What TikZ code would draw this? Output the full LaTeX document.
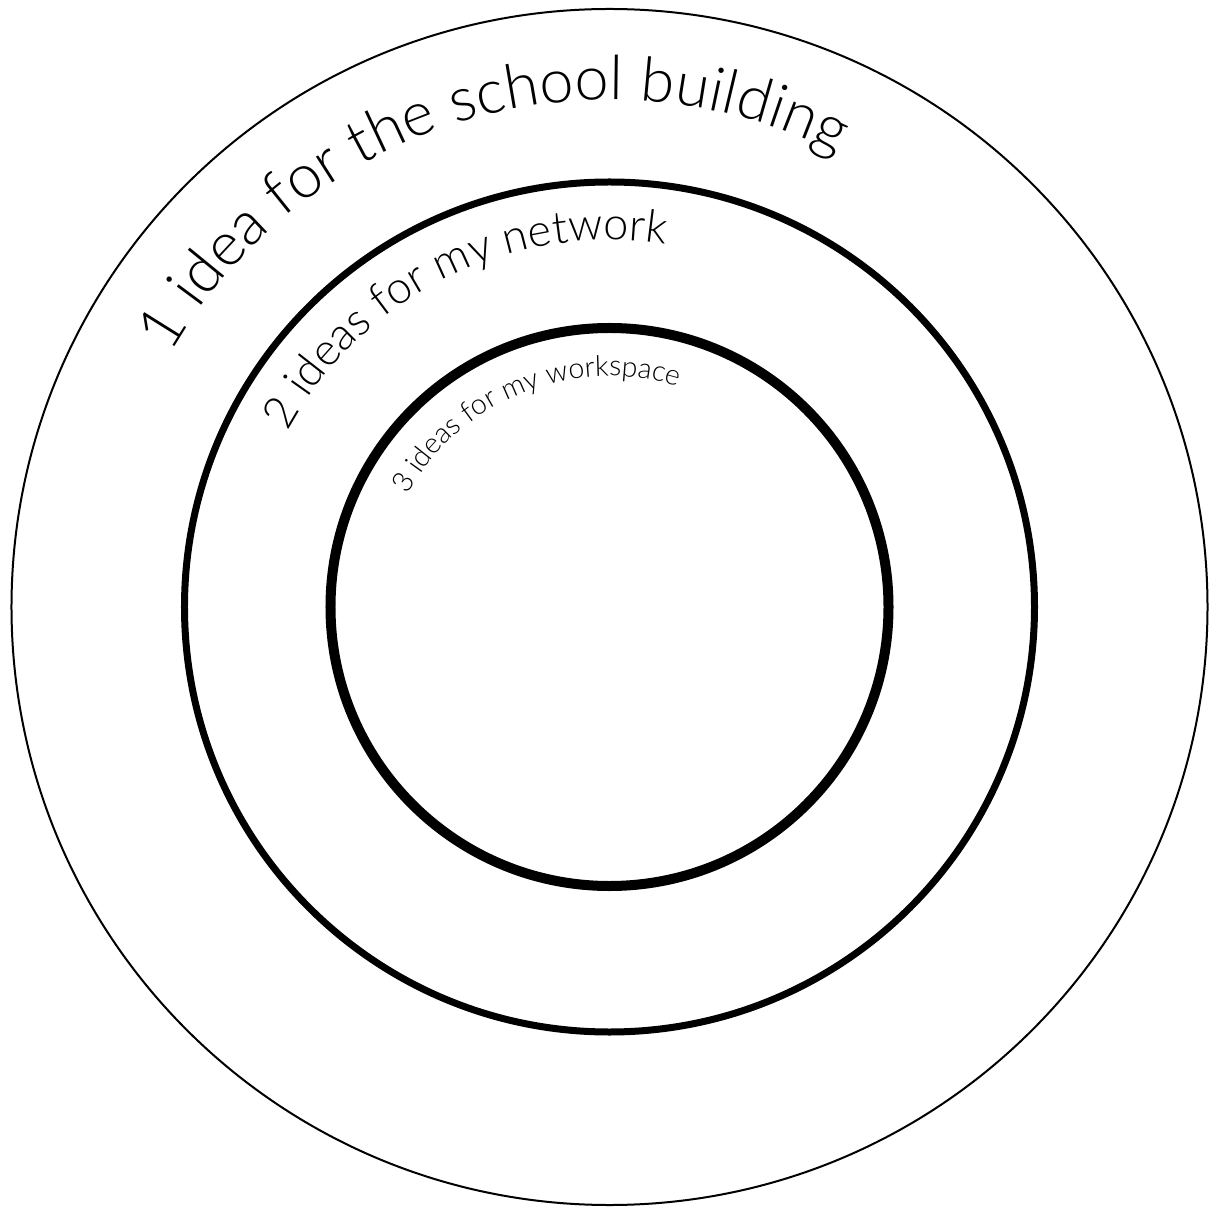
\documentclass[tikz,border=0pt]{standalone}
\usepackage{fontspec}
\usetikzlibrary{decorations.text}
\IfFontExistsTF{Lato Light}{\newfontfamily\lf{Lato Light}}{\newfontfamily\lf{Liberation Sans}}
\tikzset{
  ring/.style={draw=black},
  arctext/.style={decorate, decoration={text along path, text align=left, text={#1}}}
}
\begin{document}
\begin{tikzpicture}[x=0.5pt,y=0.5pt]
\useasboundingbox (-609.5,-602) rectangle (603.5,607);
\coordinate (c) at (0,0);
\draw[ring, line width=1pt] (c) circle[radius=598];
\draw[ring, line width=3.5pt] (c) circle[radius=425];
\draw[ring, line width=5pt] (c) circle[radius=279];
\path[arctext={|\lf\fontsize{30.6}{30.6}\selectfont|1 idea for the school building}]
  (150:507) arc[start angle=150, end angle=10, radius=507];
\path[arctext={|\lf\fontsize{22.5}{22.5}\selectfont|2 ideas for my network}]
  (151.4:367) arc[start angle=151.4, end angle=10, radius=367];
\path[arctext={|\lf\fontsize{14.3}{14.3}\selectfont|3 ideas for my workspace}]
  (151:231) arc[start angle=151, end angle=10, radius=231];
\end{tikzpicture}
\end{document}
